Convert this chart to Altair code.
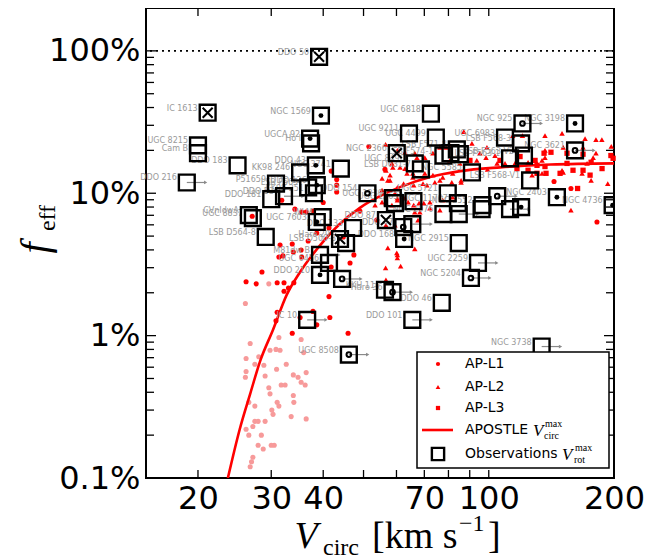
import altair as alt
import pandas as pd

# ---------------- data (V in km/s, f_eff in %) ----------------
# AP-L1 (red circles)
l1_v = [31.5, 33.7, 34.2, 35.5, 36.4, 37.8, 40.0, 31.8, 33.9, 31.3, 32.0, 35.5, 28.5, 26.1, 27.6,
        31.0, 32.2, 34.0, 33.0, 32.2, 41.3, 41.5, 37.8, 31.0, 38.6, 33.7, 30.8, 35.2, 45.9, 46.4,
        47.4, 49.0, 53.8, 43.1, 44.7, 36.8, 38.6, 41.8, 43.1, 43.1, 51.5, 56.3, 41.3, 35.4, 41.8,
        143.5, 157.6, 182.0, 27.0]
l1_f = [4.33, 4.40, 7.73, 7.37, 7.37, 7.49, 8.6, 8.93, 3.87, 3.57, 3.63, 3.57, 2.80, 2.39, 2.31,
        2.35, 2.35, 2.35, 2.16, 2.05, 1.88, 1.34, 1.48, 1.46, 1.19, 1.04, 1.27, 1.34, 1.04, 3.24,
        3.69, 7.49, 6.48, 10.2, 4.93, 4.62, 5.26, 14.3, 12.5, 11.4, 21.3, 14.7, 5.70, 3.99, 3.03,
        12.1, 10.8, 6.28, 6.9]
# AP-L1, faint (pink circles)
l1p_v = [26.7, 31.3, 35.4, 26.1, 28.0, 29.8, 30.8, 31.5, 35.9, 27.4, 28.8, 26.1, 26.0, 29.0, 30.9,
         32.6, 33.9, 34.8, 36.4, 35.4, 36.2, 29.6, 29.8, 31.7, 32.4, 26.5, 27.4, 31.0, 31.3, 33.9,
         34.0, 30.1, 30.3, 33.5, 36.4, 27.4, 27.9, 29.0, 27.1, 26.1, 26.5, 28.4, 27.9, 30.0, 30.5,
         28.7, 27.1, 26.9, 26.7, 29.6, 26.0]
l1p_f = [0.88, 0.97, 0.94, 0.69, 0.71, 0.79, 0.80, 0.79, 0.76, 0.63, 0.62, 0.56, 0.51, 0.52, 0.58,
         0.63, 0.53, 0.51, 0.55, 0.47, 0.45, 0.43, 0.39, 0.45, 0.45, 0.34, 0.32, 0.34, 0.32, 0.38,
         0.34, 0.30, 0.28, 0.27, 0.26, 0.25, 0.25, 0.25, 0.23, 0.22, 0.20, 0.20, 0.17, 0.17, 0.17,
         0.16, 0.14, 0.13, 0.12, 2.31, 1.68]
# AP-L2 (red triangles)
l2_v = [56.5, 87.1, 78.9, 91.1, 99.0, 103.5, 114.2, 120.5, 136.5, 150.0, 170.4, 181.0, 187.0, 197.0,
        168.5, 151.0, 136.5, 181.0, 67.2, 70.2, 73.4, 95.2, 98.5, 93.6, 85.2, 80.6, 136.5, 130.6,
        172.3, 178.2, 56.6, 58.5, 61.2, 63.6, 65.7, 70.2, 73.4, 74.2, 77.5, 81.5, 85.8, 109.4, 115.6,
        124.3, 134.3, 151.0, 167.6, 176.2, 193.2, 134.3, 150.0, 57.9, 60.3, 62.4, 66.0, 55.4, 59.5,
        57.9, 65.7, 69.5, 56.6, 60.3, 64.0, 66.0, 68.0, 69.8, 72.2, 66.4, 68.3, 56.6, 59.5, 67.6,
        57.2, 60.3, 60.3, 61.4, 66.4, 56.5, 56.6, 157.6, 127.1, 60.3, 62.9, 66.4, 76.3, 80.6, 58.8,
        62.9, 76.3, 81.9, 85.8, 99.3, 104.7, 55.4, 71.0, 60.3, 62.9, 58.5, 55.4, 72.2, 77.5, 81.9,
        76.3, 57.2, 60.1, 53.3]
l2_f = [22.0, 27.1, 21.0, 22.4, 21.0, 18.4, 25.4, 25.4, 25.4, 26.3, 24.2, 23.8, 23.8, 21.3,
        21.0, 21.0, 20.0, 19.1, 17.8, 17.8, 19.1, 19.1, 17.8, 17.0, 16.2, 17.0, 17.8, 16.2,
        16.2, 17.8, 14.5, 16.2, 15.2, 13.8, 13.8, 13.8, 13.4, 11.9, 12.9, 11.9, 11.9, 16.2, 16.2,
        16.5, 17.0, 14.0, 13.8, 12.3, 11.7, 13.8, 14.5, 12.3, 11.0, 11.7, 11.4, 10.5, 10.0,
        13.4, 12.9, 11.7, 8.52, 8.93, 8.65, 8.25, 8.52, 8.52, 7.86, 7.37, 7.37, 5.97, 5.97, 6.48,
        4.13, 3.69, 3.51, 3.08, 4.06, 2.99, 2.46, 7.61, 13.4, 20.0, 19.4, 19.1, 21.0, 21.7, 15.2,
        14.9, 12.3, 13.8, 12.3, 14.7, 16.2, 12.7, 11.4, 9.23, 9.23, 8.25, 8.65, 8.65, 8.93, 9.38,
        7.61, 12.3, 3.81, 8.25]
# AP-L3 (red squares)
l3_v = [129.2, 135.8, 141.1, 154.2, 168.5, 196.6, 130.6, 136.5, 154.2, 176.2, 199.0, 148.4, 159.4,
        168.5, 137.3, 130.6, 124.3, 116.9, 175.2, 187.2, 163.5, 106.4, 118.9, 90.1]
l3_f = [17.0, 19.1, 19.4, 19.1, 18.8, 18.4, 15.7, 15.4, 16.2, 16.5, 17.6, 13.8, 14.5,
        14.5, 13.8, 13.8, 14.5, 14.9, 13.4, 14.9, 10.8, 17.0, 18.1, 17.0]
# APOSTLE V_circ^max relation
curve_v = [23.6, 25.2, 26.7, 28.2, 30.3, 32.7, 35.2, 39.3, 43.9, 49.0, 54.6, 61.0, 72.3, 85.4,
           106.6, 141.0, 200.0]
curve_f = [0.10, 0.22, 0.39, 0.66, 1.1, 1.94, 2.8, 4.3, 6.1, 7.9, 9.5, 11.0, 13.0, 14.3,
           15.2, 15.9, 16.2]
# Observations V_rot^max
obs_name = ["DDO 50", "IC 1613", "NGC 1569", "UGC 8215", "Cam B", "DDO 183", "DDO 216", "UGCA 92",
            "Ho I", "KK98 246", "DDO 43", "NGC 3741", "P51659", "DDO 53", "DDO 181", "LSB F565",
            "DDO 126", "KK98 251", "DDO 154", "CVnIdwA", "UGC 8837", "LSB D564-8", "UGC 7603", "WLM",
            "DDO 133", "Haro 29", "LSB D500-3", "DDO 87", "DDO 168", "DDO 47", "", "M81dw B",
            "UGC 6456", "DDO 210", "", "KKH 11", "Haro 36", "IC 10", "DDO 101", "DDO 46", "UGC 8508",
            "NGC 5204", "UGC 2259", "NGC 2915", "NGC 3738", "NGC 4736", "NGC 2403", "NGC 3198",
            "NGC 925", "NGC 3621", "UGC 6818", "UGC 9211", "UGC 4499", "UGC 6983", "LSB F568-3",
            "LSB F563-V2", "LSB F563-1", "LSB F568-V1", "LSB F571-8", "", "LSB F574-1", "", "NGC 2366",
            "UGC 8490", "LSB D631-7", "NGC 5585", "UGC 5721", "UGC 11707", "NGC 2552", "", "", "", "",
            "NGC 2976", "", "UGC 12632", "UGC 1230", ""]
obs_v = [39.1, 21.1, 39.5, 20.0, 20.0, 24.9, 18.8, 37.2, 37.4, 35.2, 38.4, 44.1, 30.8, 32.2, 30.0,
         36.8, 38.6, 38.0, 51.1, 26.5, 27.1, 29.1, 38.6, 39.9, 47.2, 43.9, 45.4, 56.6, 62.6, 62.3,
         65.5, 39.3, 41.3, 39.3, 44.4, 56.3, 58.7, 36.6, 65.5, 77.1, 46.1, 90.6, 94.2, 84.7, 134.0,
         198.5, 145.8, 161.2, 120.5, 161.2, 72.6, 64.3, 74.6, 109.4, 119.6, 121.5, 112.5, 125.7,
         83.8, 85.2, 77.8, 80.9, 60.1, 66.4, 68.7, 91.1, 79.7, 84.3, 96.6, 96.1, 104.8, 112.5, 119.6,
         77.8, 84.7, 65.9, 58.8, 59.5]
obs_f = [90.8, 36.8, 35.1, 21.7, 19.1, 15.7, 11.9, 24.2, 22.4, 14.0, 15.7, 14.9, 11.7, 9.53, 9.08,
         11.0, 11.4, 10.0, 10.0, 7.02, 6.69, 4.93, 6.28, 6.80, 5.70, 4.77, 4.47, 6.48, 4.77, 5.79,
         6.07, 3.69, 3.24, 2.67, 2.50, 2.10, 2.02, 1.29, 1.29, 1.70, 0.736, 2.54, 3.24, 4.47, 0.838,
         8.25, 9.38, 30.9, 30.9, 20.0, 36.2, 26.3, 24.6, 24.6, 22.4, 18.4, 17.6, 12.3,
         20.3, 18.8, 18.4, 19.1, 19.1, 16.2, 14.7, 14.0, 10.0, 8.52, 8.25, 7.73, 9.53, 7.73, 7.99,
         7.14, 7.14, 8.79, 9.23, 8.52]
obs_mark = ["x", "x", "dot", "", "", "", "", "dot", "", "", "dot", "", "", "", "", "",
            "dot", "", "c", "", "", "", "dot", "", "", "x", "", "x", "dot", "c", "", "",
            "", "dot", "c", "", "c", "", "", "", "c", "c", "", "", "", "dot", "dot", "dot",
            "c", "c", "", "", "", "", "", "", "", "", "", "", "", "", "x",
            "", "", "", "", "", "", "", "c", "", "dot", "", "", "", "", ""]
obs_arrow = [0, 0, 0, 0, 0, 0, 1, 0, 0, 0, 0, 0, 0, 1, 0, 0,
             0, 0, 0, 0, 0, 0, 0, 0, 0, 0, 0, 0, 0, 0, 1, 1,
             0, 0, 1, 0, 1, 1, 1, 0, 1, 1, 1, 0, 1, 0, 0, 0,
             1, 1, 0, 0, 0, 0, 0, 0, 0, 0, 0, 0, 0, 0, 0,
             0, 0, 0, 0, 0, 0, 0, 1, 1, 0, 0, 1, 0, 0, 0]

# axis tick positions
x_label_vals = [20, 30, 40, 70, 100, 200]
x_tick_vals = [20, 30, 40, 50, 60, 70, 80, 90, 100]
y_label_vals = [0.1, 1, 10, 100]
y_major = [1, 10, 100]
y_minor = [0.2, 0.3, 0.4, 0.5, 0.6, 0.7, 0.8, 0.9, 2, 3, 4, 5, 6, 7, 8, 9,
           20, 30, 40, 50, 60, 70, 80, 90]

# ---------------- chart ----------------
W, H = 468, 470
xs = alt.Scale(type="log", domain=[15, 200], nice=False)
ys = alt.Scale(type="log", domain=[0.1, 200], nice=False)
xaxis = alt.Axis(values=x_label_vals, labelExpr="datum.value", title=None, grid=False, ticks=False,
                 domain=False, labelFontSize=32, labelFont="DejaVu Sans", labelColor="black",
                 labelPadding=5, labelOverlap=False, labelFlush=False)
yaxis = alt.Axis(values=y_label_vals, labelExpr="datum.value + '%'", title=None, grid=False,
                 ticks=False, domain=False, labelFontSize=32, labelFont="DejaVu Sans",
                 labelColor="black", labelPadding=6, labelOverlap=False, labelFlush=False)


def X(f):
    return alt.X(f, type="quantitative", scale=xs, axis=xaxis)


def Y(f):
    return alt.Y(f, type="quantitative", scale=ys, axis=yaxis)


RED = "#ff0000"
layers = []

# 100% dotted line
layers.append(alt.Chart(pd.DataFrame({"f": [100]})).mark_rule(
    color="black", strokeDash=[2, 4], strokeWidth=1.6).encode(y=Y("f")))

sim_p = pd.DataFrame({"v": l1p_v, "f": l1p_f})
sim1 = pd.DataFrame({"v": l1_v, "f": l1_f})
sim2 = pd.DataFrame({"v": l2_v, "f": l2_f})
sim3 = pd.DataFrame({"v": l3_v, "f": l3_f})
layers.append(alt.Chart(sim_p).mark_point(shape="circle", filled=True, size=26, color="#f79a9a",
                                          opacity=1).encode(x=X("v"), y=Y("f")))
layers.append(alt.Chart(sim1).mark_point(shape="circle", filled=True, size=26, color=RED,
                                         opacity=1).encode(x=X("v"), y=Y("f")))
layers.append(alt.Chart(sim2).mark_point(shape="triangle-up", filled=True, size=30, color=RED,
                                         opacity=1).encode(x=X("v"), y=Y("f")))
layers.append(alt.Chart(sim3).mark_point(shape="square", filled=True, size=28, color=RED,
                                         opacity=1).encode(x=X("v"), y=Y("f")))

curve = pd.DataFrame({"v": curve_v, "f": curve_f})
layers.append(alt.Chart(curve).mark_line(color=RED, strokeWidth=2.6, interpolate="monotone",
                                         clip=True).encode(x=X("v"), y=Y("f")))

obs = pd.DataFrame({"name": obs_name, "v": obs_v, "f": obs_f, "mark": obs_mark, "arrow": obs_arrow})
base = alt.Chart(obs)
arr = base.transform_filter("datum.arrow == 1").transform_calculate(v2="datum.v * 1.11")
layers.append(arr.mark_rule(color="#8a8a8a", strokeWidth=1.2).encode(
    x=X("v"), x2="v2:Q", y=Y("f")))
layers.append(arr.mark_point(shape="triangle-right", filled=True, size=14, color="#8a8a8a",
                             opacity=1).encode(x=X("v2"), y=Y("f")))
layers.append(base.mark_text(align="right", baseline="middle", dx=-10, dy=-4, fontSize=8,
                             font="DejaVu Sans", color="#9a9a9a").encode(
    x=X("v"), y=Y("f"), text="name:N"))
layers.append(base.mark_point(shape="square", filled=False, size=250, stroke="black",
                              strokeWidth=2.4, opacity=1, clip=True).encode(x=X("v"), y=Y("f")))
layers.append(base.transform_filter("datum.mark == 'dot'").mark_point(
    shape="circle", filled=True, size=24, color="black", opacity=1, clip=True).encode(
    x=X("v"), y=Y("f")))
layers.append(base.transform_filter("datum.mark == 'c'").mark_point(
    shape="circle", filled=False, size=22, stroke="black", strokeWidth=2, opacity=1).encode(
    x=X("v"), y=Y("f")))
layers.append(base.transform_filter("datum.mark == 'x'").mark_point(
    shape="M-1,-1L1,1M-1,1L1,-1", filled=False, size=100, stroke="black", strokeWidth=2,
    opacity=1).encode(x=X("v"), y=Y("f")))

# inward ticks on all four sides
ymaj = pd.DataFrame({"t": y_major})
ymin = pd.DataFrame({"t": y_minor})
xt = pd.DataFrame({"t": x_tick_vals})
tk = dict(color="black", strokeWidth=1.3)
layers.append(alt.Chart(ymaj).mark_rule(**tk).encode(y=Y("t"), x=alt.value(0), x2=alt.value(10)))
layers.append(alt.Chart(ymaj).mark_rule(**tk).encode(y=Y("t"), x=alt.value(W - 10), x2=alt.value(W)))
layers.append(alt.Chart(ymin).mark_rule(**tk).encode(y=Y("t"), x=alt.value(0), x2=alt.value(8)))
layers.append(alt.Chart(ymin).mark_rule(**tk).encode(y=Y("t"), x=alt.value(W - 8), x2=alt.value(W)))
layers.append(alt.Chart(xt).mark_rule(**tk).encode(x=X("t"), y=alt.value(H), y2=alt.value(H - 8)))
layers.append(alt.Chart(xt).mark_rule(**tk).encode(x=X("t"), y=alt.value(0), y2=alt.value(8)))


def txt(text, x, y, size, font="DejaVu Sans", style="normal", align="left", angle=0,
        baseline="middle"):
    return alt.Chart(pd.DataFrame({"t": [text]})).mark_text(
        font=font, fontSize=size, fontStyle=style, align=align, angle=angle, baseline=baseline,
        color="black").encode(text="t:N", x=alt.value(x), y=alt.value(y))


def one():
    return alt.Chart(pd.DataFrame({"a": [0]}))


# legend
LX0, LX1, LY0, LY1 = 271, 463, 344, 460
layers.append(one().mark_rect(fill="white", stroke="black", strokeWidth=1.5).encode(
    x=alt.value(LX0), x2=alt.value(LX1), y=alt.value(LY0), y2=alt.value(LY1)))
SX, TX = 292, 319
rows = [356, 379, 400, 422, 446]
layers.append(one().mark_point(shape="circle", filled=True, size=18, color=RED, opacity=1).encode(
    x=alt.value(SX), y=alt.value(rows[0])))
layers.append(one().mark_point(shape="triangle-up", filled=True, size=22, color=RED, opacity=1).encode(
    x=alt.value(SX), y=alt.value(rows[1])))
layers.append(one().mark_point(shape="square", filled=True, size=18, color=RED, opacity=1).encode(
    x=alt.value(SX), y=alt.value(rows[2])))
layers.append(one().mark_rule(color=RED, strokeWidth=2.6).encode(
    x=alt.value(276), x2=alt.value(307), y=alt.value(rows[3])))
layers.append(one().mark_point(shape="square", filled=False, size=150, stroke="black",
                               strokeWidth=2.4, opacity=1).encode(
    x=alt.value(SX), y=alt.value(rows[4])))
layers.append(txt("AP-L1", TX, rows[0], 14))
layers.append(txt("AP-L2", TX, rows[1], 14))
layers.append(txt("AP-L3", TX, rows[2], 14))
layers.append(txt("APOSTLE", TX, rows[3], 14))
layers.append(txt("V", 387, rows[3] + 1, 17, font="Liberation Serif", style="italic"))
layers.append(txt("max", 399, rows[3] - 6, 10, font="Liberation Serif"))
layers.append(txt("circ", 398, rows[3] + 6, 10, font="Liberation Serif"))
layers.append(txt("Observations", TX, rows[4], 14))
layers.append(txt("V", 416, rows[4] + 1, 17, font="Liberation Serif", style="italic"))
layers.append(txt("max", 429, rows[4] - 6, 10, font="Liberation Serif"))
layers.append(txt("rot", 428, rows[4] + 6, 10, font="Liberation Serif"))

# axis titles
layers.append(txt("V", 160, 529, 38, font="Liberation Serif", style="italic", align="center"))
layers.append(txt("circ", 177, 540, 24, font="Liberation Serif"))
layers.append(txt("[km s", 226, 529, 38, font="Liberation Serif"))
layers.append(txt("\u22121", 313, 516, 24, font="Liberation Serif"))
layers.append(txt("]", 342, 529, 38, font="Liberation Serif"))
layers.append(txt("f", -110, 240, 40, font="Liberation Serif", style="italic", align="center",
                  angle=270))
layers.append(txt("eff", -98, 210, 24, font="Liberation Serif", align="center", angle=270))

chart = alt.layer(*layers).properties(
    width=W, height=H,
    autosize=alt.AutoSizeParams(type="none"),
    padding={"left": 138, "top": 0, "right": 45, "bottom": 82},
).configure_view(stroke="black", strokeWidth=2)

chart.save("out.html", embed_options={"renderer": "svg", "actions": False})
